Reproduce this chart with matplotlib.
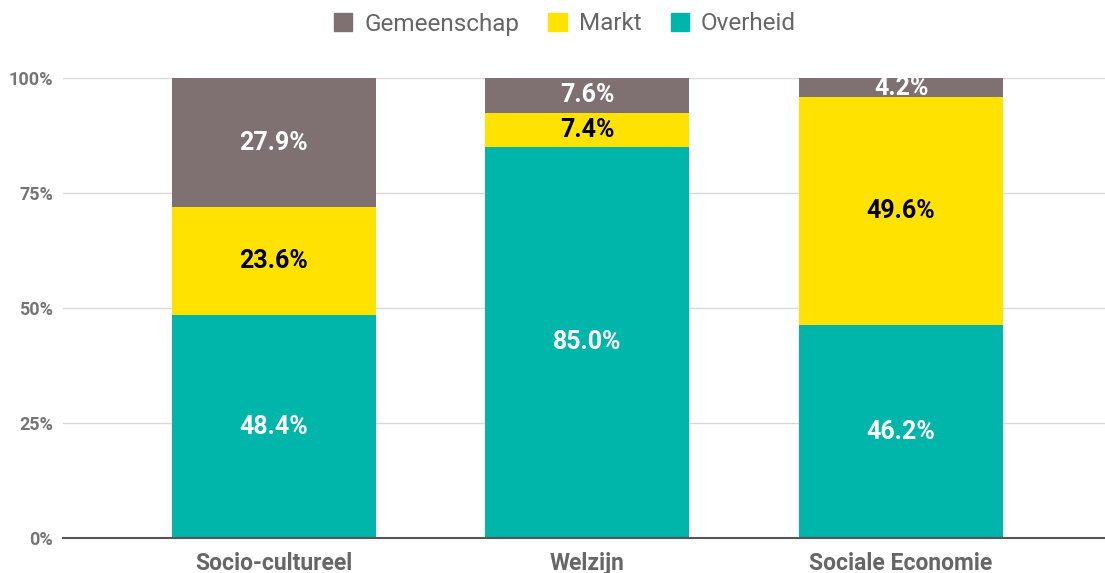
import matplotlib
matplotlib.use("Agg")
import matplotlib.pyplot as plt
from matplotlib.patches import Patch
import numpy as np

categories = ["Socio-cultureel", "Welzijn", "Sociale Economie"]
overheid = [48.4, 85.0, 46.2]
markt = [23.6, 7.4, 49.6]
gemeenschap = [27.9, 7.6, 4.2]
yticks = [0, 25, 50, 75, 100]
ytick_labels = ["0%", "25%", "50%", "75%", "100%"]

col_over = "#00b5aa"
col_markt = "#ffe200"
col_gem = "#7f7172"

plt.rcParams['font.family'] = ['Roboto', 'DejaVu Sans']

fig = plt.figure(figsize=(11.05, 5.73), dpi=100)
ax = fig.add_axes([0.057, 0.0611, 0.943, 0.8028])

x = np.arange(len(categories))
w = 0.65
ax.bar(x, overheid, w, color=col_over, zorder=3)
ax.bar(x, markt, w, bottom=overheid, color=col_markt, zorder=3)
bot3 = [a + b for a, b in zip(overheid, markt)]
ax.bar(x, gemeenschap, w, bottom=bot3, color=col_gem, zorder=3)

fs = 18
for i in range(len(categories)):
    ax.text(x[i], overheid[i] / 2, f"{overheid[i]:.1f}%", ha="center", va="center",
            color="white", fontsize=fs, fontweight="bold", zorder=4)
    ax.text(x[i], overheid[i] + markt[i] / 2, f"{markt[i]:.1f}%", ha="center", va="center",
            color="black", fontsize=fs, fontweight="bold", zorder=4)
    ax.text(x[i], bot3[i] + gemeenschap[i] / 2, f"{gemeenschap[i]:.1f}%", ha="center", va="center",
            color="white", fontsize=fs, fontweight="bold", zorder=4)

ax.set_xlim(-0.672, 2.65)
ax.set_ylim(0, 100)
ax.set_yticks(yticks)
ax.set_yticklabels(ytick_labels, fontsize=13, fontweight="bold", color="#757575")
ax.set_xticks(x)
ax.set_xticklabels(categories, fontsize=16.5, fontweight="bold", color="#666666")
ax.tick_params(axis="both", length=0)
ax.tick_params(axis="x", pad=10)
ax.tick_params(axis="y", pad=7)
ax.yaxis.grid(True, color="#d9d9d9", linewidth=1, zorder=0)
ax.set_axisbelow(True)
for s in ["top", "right", "left"]:
    ax.spines[s].set_visible(False)
ax.spines["bottom"].set_color("#555555")
ax.spines["bottom"].set_linewidth(1.5)
ax.spines["bottom"].set_zorder(5)

handles = [Patch(color=col_gem, label="Gemeenschap"),
           Patch(color=col_markt, label="Markt"),
           Patch(color=col_over, label="Overheid")]
fig.legend(handles=handles, loc="center", bbox_to_anchor=(565 / 1105, 1 - 24 / 573), ncol=3,
           frameon=False, fontsize=17.5, handlelength=0.75, handleheight=0.75,
           handletextpad=0.5, columnspacing=1.2, labelcolor="#666666")

fig.savefig("out.png", dpi=100)
